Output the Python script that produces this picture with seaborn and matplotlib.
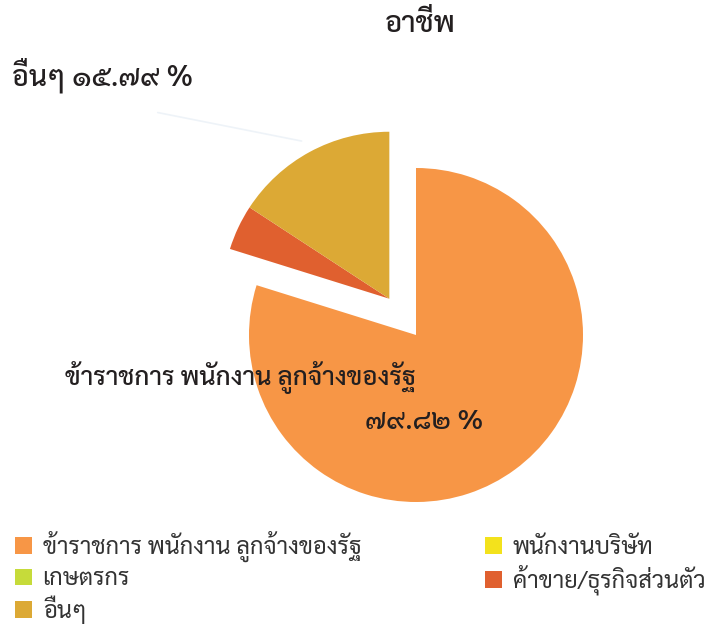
import numpy as np
import matplotlib
matplotlib.use("Agg")
import matplotlib.pyplot as plt
import seaborn as sns

# ข้อมูลอาชีพ (ร้อยละ)
categories = ['ข้าราชการ พนักงาน ลูกจ้างของรัฐ', 'พนักงานบริษัท', 'เกษตรกร',
              'ค้าขาย/ธุรกิจส่วนตัว', 'อื่นๆ']
percents = [79.82, 0.0, 0.0, 4.39, 15.79]
colors = ['#F79646', '#F3E21C', '#C6DB3A', '#E0602F', '#DCA935']
exploded = ['ค้าขาย/ธุรกิจส่วนตัว', 'อื่นๆ']
thai_digits = str.maketrans('0123456789', '๐๑๒๓๔๕๖๗๘๙')

sns.set_theme(style='white')
plt.rcParams['font.family'] = ['Sarabun', 'DejaVu Sans']
text_color = '#231F20'

fig = plt.figure(figsize=(7.12, 6.36), dpi=100)
ax = fig.add_axes([0, 0, 1, 1])

cx, cy, r = 416, 301, 167
wedges, _ = ax.pie(percents, colors=colors, startangle=90, counterclock=False,
                   center=(cx, cy), radius=r, wedgeprops=dict(linewidth=0))

# แยกส่วน "ค้าขาย" กับ "อื่นๆ" ออกมาพร้อมกัน
idx = [categories.index(c) for c in exploded]
f0 = sum(percents[:min(idx)]) / 100
f1 = sum(percents[:max(idx) + 1]) / 100
mid = np.deg2rad(90 - 360 * (f0 + f1) / 2)
dx, dy = 45 * np.cos(mid), 45 * np.sin(mid)
for i in idx:
    wedges[i].set_center((cx + dx, cy + dy))

ax.set_xlim(0, 712)
ax.set_ylim(0, 636)
ax.set_aspect('equal')
ax.axis('off')

# เส้นชี้ป้าย "อื่นๆ" (จางมาก)
w = wedges[4]
t = np.deg2rad((w.theta1 + w.theta2) / 2)
tip = (w.center[0] + 1.07 * r * np.cos(t), w.center[1] + 1.07 * r * np.sin(t))
ax.annotate('', xy=tip, xytext=(155, 524),
            arrowprops=dict(arrowstyle='-', color='#EEF3F8', lw=1.2))

ax.text(420, 611, 'อาชีพ', ha='center', va='center', fontsize=21,
        fontweight='medium', color=text_color)
ax.text(12, 561, 'อื่นๆ ' + f'{percents[4]:.2f}'.translate(thai_digits) + ' %',
        ha='left', va='center', fontsize=20.5, fontweight='medium', color=text_color)
ax.text(65, 258, categories[0], ha='left', va='center', fontsize=18.5,
        fontweight='medium', color=text_color)
ax.text(365, 214, f'{percents[0]:.2f}'.translate(thai_digits) + ' %',
        ha='left', va='center', fontsize=20, fontweight='medium', color=text_color)

order = [0, 2, 4, 1, 3]
ax.legend([wedges[i] for i in order], [categories[i] for i in order],
          ncol=2, loc='upper left', bbox_to_anchor=(15 / 712, 1 - 531 / 636),
          frameon=False, borderpad=0, borderaxespad=0,
          fontsize=17, handlelength=0.72, handleheight=0.72, handletextpad=0.45,
          columnspacing=5.25, labelspacing=0.23, labelcolor='#333333')

fig.savefig('out.png', dpi=100)
